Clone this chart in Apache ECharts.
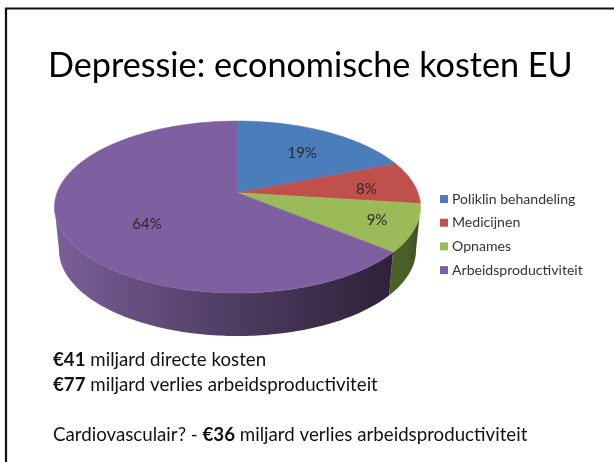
<!DOCTYPE html>
<html>
<head>
<meta charset="utf-8">
<title>Depressie</title>
<script src="https://cdn.jsdelivr.net/npm/echarts@6/dist/echarts.min.js"></script>
<style>
  html, body { margin: 0; padding: 0; background: #fff; }
  #chart-container { width: 614px; height: 462px; }
</style>
</head>
<body>
<div id="chart-container"></div>
<script>
const titleText = "Depressie: economische kosten EU";
const categories = ["Poliklin behandeling", "Medicijnen", "Opnames", "Arbeidsproductiviteit"];
const shares = [19, 8, 9, 64];
const sliceColors = ["#4a7dba", "#bf504c", "#9bbb59", "#7e60a0"];
const wallLeftColors = ["#2f4a70", "#73302e", "#4b5f28", "#7a5f98"];
const wallRightColors = ["#2f4a70", "#73302e", "#3f4c22", "#2e2138"];
const bodyLines = [
  "{b|€41} miljard directe kosten",
  "{b|€77} miljard verlies arbeidsproductiviteit",
  "Cardiovasculair? - {b|€36} miljard verlies arbeidsproductiviteit"
];

// fake 3D: a circle seen in perspective, so the apex sits above the ellipse centre
const topRim = { cx: 237.5, cy: 207, rx: 183, ry: 86 };
const bottomRim = { cx: 237.5, cy: 250, rx: 178.5, ry: 86 };
const apexShift = -0.166;
const labelReach = [[115, 48], [130, 30], [152, 69], [100, 73]];

const total = shares.reduce((a, b) => a + b, 0);

function rimPoint(rim, deg, r = 1) {
  const t = (deg * Math.PI) / 180;
  const u = r * Math.sin(t);
  const v = -r * Math.cos(t);
  const d = 1 + apexShift * v;
  return [
    rim.cx + (rim.rx * u * Math.sqrt(1 - apexShift * apexShift)) / d,
    rim.cy + (rim.ry * (v + apexShift)) / d
  ];
}

function rimPath(rim, from, to) {
  const pts = [];
  const steps = Math.max(2, Math.ceil(Math.abs(to - from)));
  for (let i = 0; i <= steps; i++) {
    pts.push(rimPoint(rim, from + ((to - from) * i) / steps));
  }
  return pts;
}

// only the front of the wall can be seen
const wallFrom = (Math.acos(apexShift) * 180) / Math.PI;
const wallTo = 360 - wallFrom;

function renderSlice(params, api) {
  const idx = params.seriesIndex;
  const before = shares.slice(0, idx).reduce((a, b) => a + b, 0);
  const start = (before / total) * 360;
  const end = start + (api.value(0) / total) * 360;
  const apex = rimPoint(topRim, 0, 0);
  const children = [];

  const a = Math.max(start, wallFrom);
  const b = Math.min(end, wallTo);
  if (b > a) {
    children.push({
      type: "polygon",
      z2: 1,
      shape: { points: rimPath(topRim, a, b).concat(rimPath(bottomRim, b, a)) },
      style: {
        fill: new echarts.graphic.LinearGradient(0, 0, 1, 0, [
          { offset: 0, color: wallLeftColors[idx] },
          { offset: 0.55, color: idx === 3 ? "#4d3b60" : wallLeftColors[idx] },
          { offset: 1, color: wallRightColors[idx] }
        ])
      }
    });
  }

  children.push({
    type: "polygon",
    z2: 2,
    shape: { points: [apex].concat(rimPath(topRim, start, end)) },
    style: { fill: sliceColors[idx], stroke: sliceColors[idx], lineWidth: 0.5 }
  });

  const mid = ((start + end) / 2) * Math.PI / 180;
  children.push({
    type: "text",
    z2: 3,
    x: apex[0] + labelReach[idx][0] * Math.sin(mid),
    y: apex[1] - labelReach[idx][1] * Math.cos(mid),
    style: {
      text: api.value(0) + "%",
      fill: "#2a2a2a",
      font: "15px Lato",
      align: "center",
      verticalAlign: "middle"
    }
  });

  return { type: "group", children };
}

const bodyY = [360, 385, 435];
const bodyRich = { b: { fontFamily: "Lato", fontSize: 18.7, fontWeight: "bold", fill: "#111", color: "#111" } };

const myChart = echarts.init(document.getElementById("chart-container"), null, { renderer: "canvas" });

const option = {
  animation: false,
  backgroundColor: "#fff",
  title: {
    text: titleText,
    left: 43,
    top: 44,
    textStyle: { fontFamily: "Lato", fontSize: 34.2, fontWeight: "normal", color: "#000" }
  },
  legend: {
    orient: "vertical",
    left: 435,
    top: 187,
    itemWidth: 8,
    itemHeight: 8,
    itemGap: 9.7,
    icon: "rect",
    data: categories,
    textStyle: { fontFamily: "Lato", fontSize: 14.1, color: "#333", padding: [0, 0, 0, -1] }
  },
  series: categories.map((name, i) => ({
    type: "custom",
    name: name,
    coordinateSystem: "none",
    renderItem: renderSlice,
    itemStyle: { color: sliceColors[i] },
    data: [[shares[i]]]
  })),
  graphic: [
    {
      type: "polyline",
      shape: { points: [[6, 462], [6, 8.5], [614, 8.5]] },
      style: { stroke: "#111", fill: null, lineWidth: 2.2 }
    }
  ].concat(bodyLines.map((line, i) => ({
    type: "text",
    x: 53,
    y: bodyY[i],
    style: {
      text: line,
      fill: "#111",
      font: "18.7px Lato",
      verticalAlign: "middle",
      rich: bodyRich
    }
  })))
};

myChart.setOption(option);
window.addEventListener("resize", myChart.resize);
</script>
</body>
</html>
